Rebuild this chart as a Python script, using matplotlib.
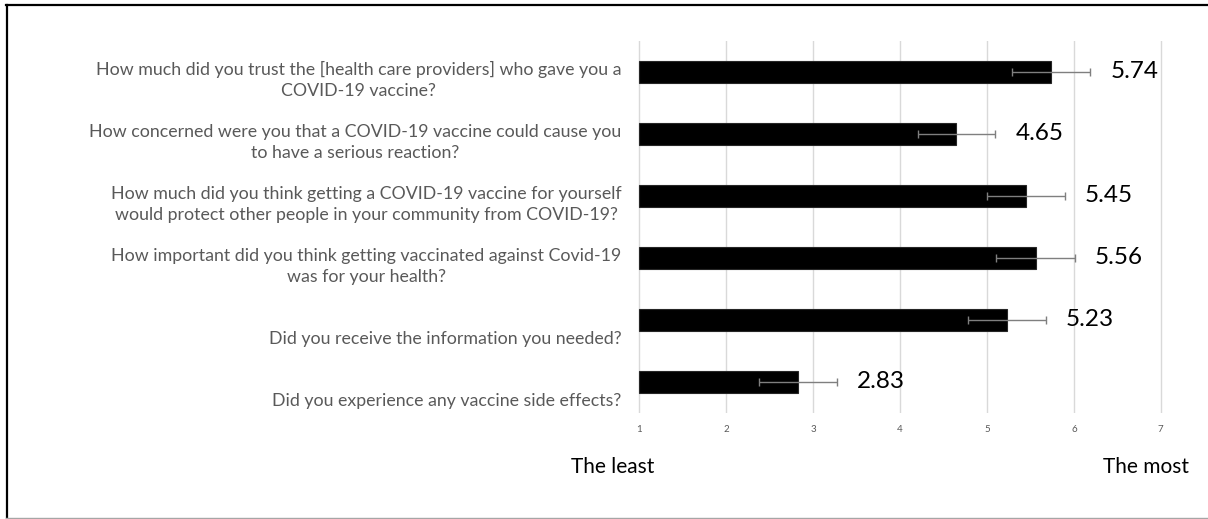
import numpy as np
import matplotlib.pyplot as plt
from matplotlib.lines import Line2D

plt.rcParams['font.family'] = ['Lato', 'DejaVu Sans']

questions = [
    "How much did you trust the [health care providers] who gave you a\nCOVID-19 vaccine?",
    "How concerned were you that a COVID-19 vaccine could cause you\nto have a serious reaction?",
    "How much did you think getting a COVID-19 vaccine for yourself\nwould protect other people in your community from COVID-19?",
    "How important did you think getting vaccinated against Covid-19\nwas for your health?",
    "Did you receive the information you needed?",
    "Did you experience any vaccine side effects?",
]
means = [5.74, 4.65, 5.45, 5.56, 5.23, 2.83]
errs = [0.45, 0.44, 0.45, 0.45, 0.45, 0.45]
ticks = [1, 2, 3, 4, 5, 6, 7]

W, H = 1208, 519
fig = plt.figure(figsize=(W / 100, H / 100), dpi=100)
# plot area in pixels: x 637.5..1162.5, y 41..413
ax = fig.add_axes([637.5 / W, 1 - 413 / H, 525 / W, 372 / H])

y = np.arange(len(means))
start = 1
ax.barh(y, np.array(means) - start, left=start, height=0.355,
        color='black', edgecolor='#262626', lw=0.8, zorder=3)
ax.errorbar(means, y, xerr=errs, fmt='none', ecolor='#7f7f7f',
            elinewidth=1, capsize=3, capthick=1, zorder=4)

for yi, m in zip(y, means):
    ax.annotate(f"{m:.2f}", (m, yi), xytext=(59, 0), textcoords='offset pixels',
                ha='left', va='center', fontsize=17.5, color='black')

ax.set_xlim(0.98, 7.02)
ax.set_ylim(len(means) - 0.5, -0.5)
ax.set_xticks(ticks)
ax.set_xticklabels([str(t) for t in ticks])
ax.tick_params(axis='x', length=0, pad=9, labelsize=7, labelcolor='#595959')
ax.set_yticks([])
ax.grid(axis='x', color='#d9d9d9', lw=1, zorder=0)
for s in ax.spines.values():
    s.set_visible(False)

# category labels, bottom-aligned in each band like Excel does
for yi, q in zip(y, questions):
    ax.text(-16 / 525, yi + 0.44, q, transform=ax.get_yaxis_transform(),
            ha='right', va='bottom', multialignment='center',
            fontsize=12.8, color='#595959', linespacing=1.4)

fig.text(571 / W, 1 - 472.7 / H, "The least", ha='left', va='baseline', fontsize=15)
fig.text(1189 / W, 1 - 472.7 / H, "The most", ha='right', va='baseline', fontsize=15)

# frame around the picture (top & left black, bottom grey)
fig.add_artist(Line2D([6 / W, 1], [1 - 5 / H, 1 - 5 / H], color='black', lw=1.6,
                      transform=fig.transFigure))
fig.add_artist(Line2D([6.5 / W, 6.5 / W], [1 - 5 / H, 1 / H], color='black', lw=1.6,
                      transform=fig.transFigure))
fig.add_artist(Line2D([6 / W, 1], [1.2 / H, 1.2 / H], color='#a6a6a6', lw=1,
                      transform=fig.transFigure))

fig.savefig('out.png', dpi=100)
